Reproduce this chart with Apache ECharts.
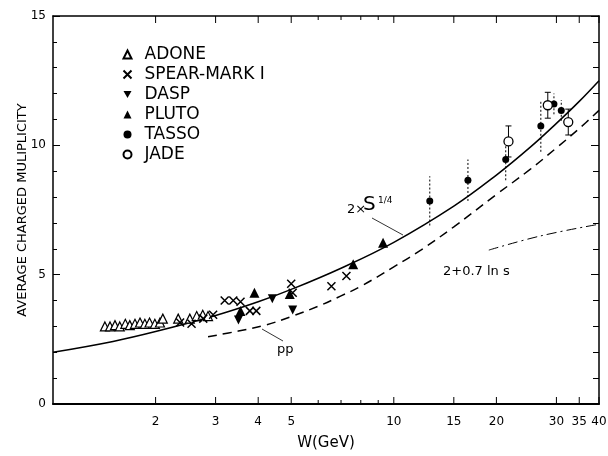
<!DOCTYPE html>
<html><head><meta charset="utf-8">
<script src="https://cdn.jsdelivr.net/npm/echarts@6/dist/echarts.min.js"></script>
<style>html,body{margin:0;padding:0;background:#fff}#c{width:608px;height:456px}</style>
</head><body><div id="c"></div>
<script>
// ---- data ----
const adoneW = [1.42,1.47,1.52,1.57,1.63,1.68,1.74,1.80,1.86,1.92,1.99,2.06,2.10,2.33,2.52,2.64,2.75,2.85];
const adoneV = [3.0,3.0,3.05,3.0,3.1,3.05,3.1,3.15,3.1,3.15,3.1,3.15,3.3,3.3,3.3,3.4,3.45,3.4];
const spearW = [2.36,2.55,2.76,2.95,3.19,3.38,3.55,3.78,3.95,5.0,5.05,6.56,7.26];
const spearV = [3.15,3.1,3.3,3.45,4.0,4.0,3.95,3.6,3.6,4.65,4.3,4.55,4.95];
const daspW = [3.5,4.4,5.05];
const daspV = [3.25,4.07,3.63];
const plutoW = [3.55,3.9,4.95,7.6,9.3];
const plutoV = [3.6,4.3,4.25,5.4,6.23];
const tassoW = [12.75,16.5,21.3,27.0,29.5,31.0];
const tassoV = [7.85,8.65,9.45,10.75,11.6,11.35];
const tassoErr = [0.95,0.8,0.8,1.0,0.4,0.4];
const jadeW = [21.7,28.3,32.5];
const jadeV = [10.15,11.55,10.9];
const jadeErr = [0.6,0.5,0.5];
// curves
const s14W = [1,1.5,2,3,4,5,7,10,15,20,25,30,35,40];
const s14V = [2.0,2.42,2.8,3.42,3.95,4.43,5.25,6.25,7.65,8.85,9.9,10.85,11.7,12.5];
const ppW = [2.85,3.5,4.2,5,6,7,8,10,12,15,20,25,30,35,40];
const ppV = [2.6,2.82,3.05,3.38,3.78,4.18,4.55,5.3,5.95,6.85,8.1,9.05,9.9,10.65,11.35];
const lnsW = [19,27,40];
const lnsV = [5.95,6.5,6.95];
// axis ticks
const xTickValues = [2,3,4,5,6,7,8,9,10,15,20,30,35,40];
const xTickLabels = ['2','3','4','5','','','','','10','15','20','30','35','40'];

const FONT = 'DejaVu Sans';
function pairs(xs, ys){ return xs.map((x,i)=>[x, ys[i]]); }
function errData(xs, ys, es){ return xs.map((x,i)=>[x, ys[i]-es[i], ys[i]+es[i]]); }

const chart = echarts.init(document.getElementById('c'), null, {renderer:'canvas'});

const tickSeries = {
  type:'custom', name:'xticks', silent:true, clip:false, z:5,
  data: xTickValues.map(v=>[v,0]),
  encode:{x:0,y:1},
  renderItem:function(params, api){
    const w = api.value(0);
    const b = api.coord([w,0]);
    const t = api.coord([w,15]);
    const lbl = xTickLabels[params.dataIndex];
    const len = lbl ? 7 : 4;
    return {type:'group', children:[
      {type:'line', shape:{x1:b[0],y1:b[1],x2:b[0],y2:b[1]-len}, style:{stroke:'#000',lineWidth:1}},
      {type:'line', shape:{x1:t[0],y1:t[1],x2:t[0],y2:t[1]+len}, style:{stroke:'#000',lineWidth:1}},
      {type:'text', x:b[0], y:b[1]+12, style:{text:lbl, textAlign:'center', textVerticalAlign:'top', font:'12px '+FONT, fill:'#000'}}
    ]};
  }
};

function errSeries(name, xs, ys, es, dashed, caps){
  return {
    type:'custom', name:name, silent:true, z:2,
    data: errData(xs, ys, es),
    encode:{x:0,y:[1,2]},
    renderItem:function(params, api){
      const w = api.value(0);
      const lo = api.coord([w, api.value(1)]);
      const hi = api.coord([w, api.value(2)]);
      const ch = [{type:'line', shape:{x1:lo[0],y1:lo[1],x2:hi[0],y2:hi[1]},
        style:{stroke:'#000',lineWidth:1,lineDash:dashed?[2,2]:null}}];
      if (caps){
        ch.push({type:'line', shape:{x1:lo[0]-3,y1:lo[1],x2:lo[0]+3,y2:lo[1]}, style:{stroke:'#000',lineWidth:1}});
        ch.push({type:'line', shape:{x1:hi[0]-3,y1:hi[1],x2:hi[0]+3,y2:hi[1]}, style:{stroke:'#000',lineWidth:1}});
      }
      return {type:'group', children:ch};
    }
  };
}

const openStyle = {color:'#fff', borderColor:'#000', borderWidth:1.2, opacity:1};
const fillStyle = {color:'#000', opacity:1};

const option = {
  animation:false,
  backgroundColor:'#fff',
  grid:{left:53, right:9, top:16, bottom:47},
  legend:{
    data:['ADONE','SPEAR-MARK I','DASP','PLUTO','TASSO','JADE'],
    orient:'vertical', left:116, top:41, itemGap:3, itemWidth:8, itemHeight:8,
    selectedMode:false,
    textStyle:{fontFamily:FONT, fontSize:17, color:'#000', padding:[0,0,0,8]}
  },
  xAxis:[
    {type:'log', logBase:10, min:1, max:40, position:'bottom',
     axisLine:{show:true, lineStyle:{color:'#000', width:2}},
     axisTick:{show:false}, axisLabel:{show:false}, splitLine:{show:false}, minorTick:{show:false},
     name:'W(GeV)', nameLocation:'middle', nameGap:32, nameMoveOverlap:false,
     nameTextStyle:{fontFamily:FONT, fontSize:15, color:'#000'}},
    {type:'log', logBase:10, min:1, max:40, position:'top',
     axisLine:{show:true, onZero:false, lineStyle:{color:'#000', width:1.5}},
     axisTick:{show:false}, axisLabel:{show:false}, splitLine:{show:false}}
  ],
  yAxis:[
    {type:'value', min:0, max:15, interval:5, position:'left',
     axisLine:{show:true, lineStyle:{color:'#000', width:1.5}},
     axisTick:{show:true, inside:true, length:7, lineStyle:{color:'#000'}},
     minorTick:{show:true, splitNumber:5, length:4, lineStyle:{color:'#000'}},
     axisLabel:{fontFamily:FONT, fontSize:12, color:'#000', margin:7},
     splitLine:{show:false},
     name:'AVERAGE CHARGED MULIPLICITY', nameLocation:'middle', nameGap:24, nameMoveOverlap:false,
     nameTextStyle:{fontFamily:FONT, fontSize:13, color:'#000'}},
    {type:'value', min:0, max:15, interval:5, position:'right',
     axisLine:{show:true, lineStyle:{color:'#000', width:1.5}},
     axisTick:{show:true, inside:true, length:8, lineStyle:{color:'#000'}},
     minorTick:{show:true, splitNumber:5, length:6, lineStyle:{color:'#000'}},
     axisLabel:{show:false}, splitLine:{show:false}}
  ],
  series:[
    tickSeries,
    {type:'line', name:'2xS14', data:pairs(s14W,s14V), smooth:0.4, showSymbol:false, silent:true,
     lineStyle:{color:'#000', width:1.5}, z:3},
    {type:'line', name:'pp', data:pairs(ppW,ppV), smooth:0.4, showSymbol:false, silent:true,
     lineStyle:{color:'#000', width:1.5, type:[9,6]}, z:3},
    {type:'line', name:'lns', data:pairs(lnsW,lnsV), smooth:0.4, showSymbol:false, silent:true,
     lineStyle:{color:'#000', width:1, type:[10,4,2,4]}, z:3},
    errSeries('tassoErr', tassoW, tassoV, tassoErr, true, false),
    errSeries('jadeErr', jadeW, jadeV, jadeErr, false, true),
    {type:'scatter', name:'ADONE', data:pairs(adoneW,adoneV), symbol:'triangle', symbolSize:9, itemStyle:openStyle, z:4},
    {type:'scatter', name:'SPEAR-MARK I', data:pairs(spearW,spearV), symbol:'path://M0,0L10,10M10,0L0,10', symbolSize:8,
     itemStyle:{color:'none', borderColor:'#000', borderWidth:1.5, opacity:1}, z:4},
    {type:'scatter', name:'DASP', data:pairs(daspW,daspV), symbol:'path://M0,0L10,0L5,9Z', symbolSize:9, itemStyle:fillStyle, z:4},
    {type:'scatter', name:'PLUTO', data:pairs(plutoW,plutoV), symbol:'triangle', symbolSize:10, itemStyle:fillStyle, z:4},
    {type:'scatter', name:'TASSO', data:pairs(tassoW,tassoV), symbol:'circle', symbolSize:7, itemStyle:fillStyle, z:4},
    {type:'scatter', name:'JADE', data:pairs(jadeW,jadeV), symbol:'circle', symbolSize:9, itemStyle:{color:'#fff', borderColor:'#000', borderWidth:1.3, opacity:1}, z:4}
  ],
  graphic:[
    {type:'text', left:347, top:203, style:{text:'2×', font:'13px '+FONT, fill:'#000'}},
    {type:'text', left:363, top:195, style:{text:'S', font:'20px '+FONT, fill:'#000'}},
    {type:'text', left:378, top:196, style:{text:'1/4', font:'9px '+FONT, fill:'#000'}},
    {type:'line', shape:{x1:372,y1:218,x2:403,y2:235}, style:{stroke:'#000', lineWidth:0.8}},
    {type:'text', left:443, top:265, style:{text:'2+0.7 ln s', font:'13px '+FONT, fill:'#000'}},
    {type:'text', left:277, top:343, style:{text:'pp', font:'13px '+FONT, fill:'#000'}},
    {type:'line', shape:{x1:262,y1:329,x2:283,y2:341}, style:{stroke:'#000', lineWidth:0.8}}
  ]
};
chart.setOption(option);
</script>
</body></html>
